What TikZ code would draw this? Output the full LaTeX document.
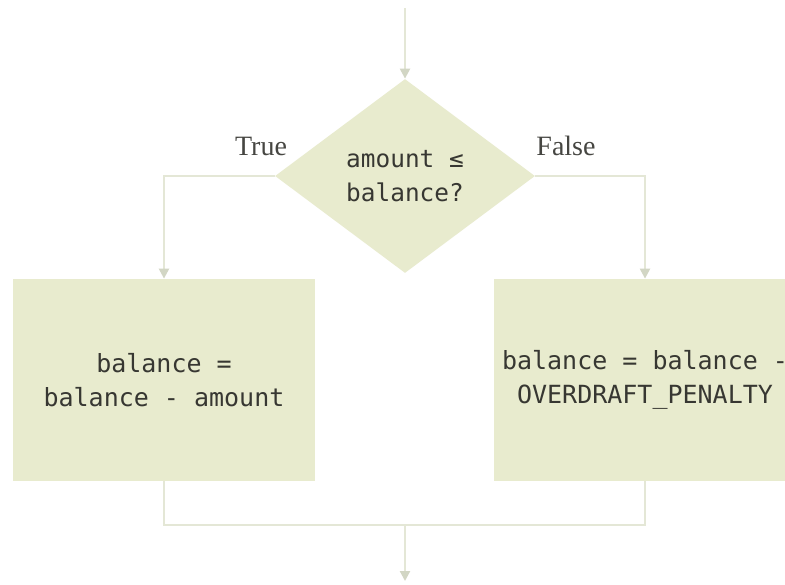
\documentclass[tikz,border=0pt]{standalone}
\usepackage{fontspec}
\setmainfont{Liberation Serif}
\newfontfamily\codefont{DejaVu Sans Mono}
\usetikzlibrary{shapes.geometric,arrows.meta}
\definecolor{boxfill}{RGB}{232,235,206}
\definecolor{linecol}{RGB}{228,231,214}
\definecolor{tipcol}{RGB}{210,214,196}
\definecolor{textcol}{RGB}{55,55,50}
\definecolor{labelcol}{RGB}{70,70,66}
\begin{document}
\begin{tikzpicture}[x=0.5pt,y=-0.5pt,
  codetext/.style={font=\codefont\fontsize{12.2}{17}\selectfont,text=textcol,align=center},
  stepbox/.style={codetext,font=\codefont\fontsize{12.5}{17}\selectfont,draw=none,fill=boxfill,minimum width=151pt,minimum height=101pt,inner sep=0pt},
  decision/.style={codetext,diamond,draw=none,fill=boxfill,aspect=1.34,minimum width=130pt,minimum height=97pt,inner sep=0pt},
  conn/.style={draw=linecol,line width=1.1pt,-{Triangle[length=5pt,width=5pt,color=tipcol]}},
  plain/.style={draw=linecol,line width=1.1pt},
  lbl/.style={font=\fontsize{14}{16}\selectfont,text=labelcol,inner sep=0pt}]
\useasboundingbox (0,0) rectangle (785,584);
\clip (0,0) rectangle (785,584);
\fill[white] (0,0) rectangle (785,584);

\coordinate (start) at (405,8);
\node[decision] (dec) at (405,176) {amount ≤\\balance?};
\node[stepbox] (lbox) at (164,380) {balance =\\balance - amount};
\node[stepbox] (rbox) at (645,380) {balance = balance -\\OVERDRAFT\_PENALTY};
\coordinate (merge) at (405,525);
\coordinate (finish) at (405,581);

\node[lbl] (truelbl) at (261,146) {True};
\node[lbl] (falselbl) at (566,146) {False};

\draw[conn] (start) -- (dec.north);
\draw[conn] (dec.west) -| (lbox.north);
\draw[conn] (dec.east) -| (rbox.north);
\draw[plain] (lbox.south) |- (merge) -| (rbox.south);
\draw[conn] (merge) -- (finish);
\end{tikzpicture}
\end{document}
